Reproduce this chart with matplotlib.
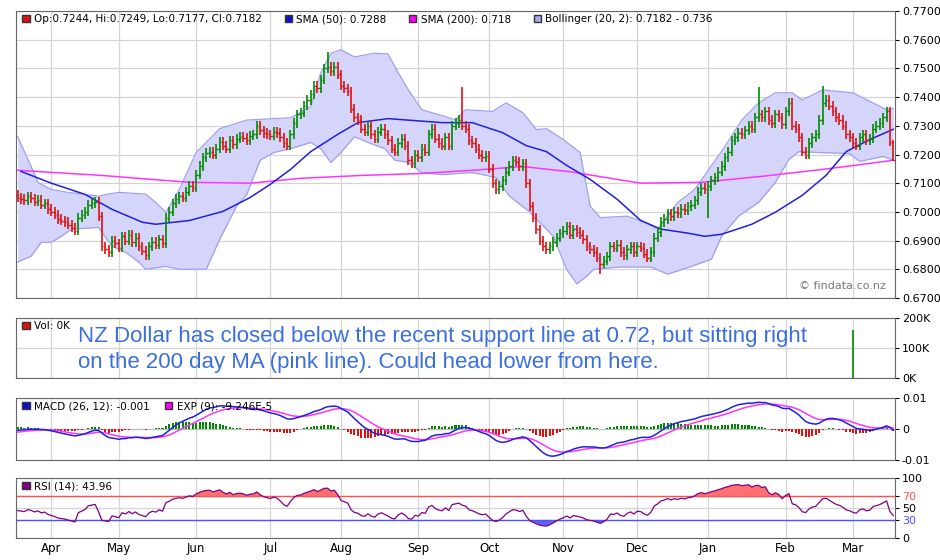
import numpy as np
import pandas as pd
import matplotlib
matplotlib.use("Agg")
import matplotlib.pyplot as plt
from matplotlib.patches import Patch

# closes before the visible window (warm-up for MACD / RSI only)
prior_closes = [0.7200,0.7180,0.7150,0.7120,0.7100,0.7080,0.7050,0.7000,0.6960,0.6950,
                0.6990,0.7030,0.7060,0.7040,0.7010,0.7000,0.6980,0.7020,0.7050,0.7070]
closes = [
0.7050,0.7045,0.7040,0.7055,0.7048,0.7035,0.7042,0.7025,0.7030,0.7010,
0.7000,0.6990,0.6975,0.6970,0.6965,0.6955,0.6945,0.6935,0.6980,0.6990,
0.7000,0.7025,0.7030,0.7035,0.6985,0.6880,0.6870,0.6860,0.6900,0.6890,
0.6875,0.6915,0.6900,0.6920,0.6895,0.6910,0.6880,0.6865,0.6850,0.6880,
0.6895,0.6885,0.6905,0.6890,0.6980,0.7000,0.7030,0.7045,0.7055,0.7050,
0.7070,0.7090,0.7085,0.7130,0.7160,0.7190,0.7205,0.7210,0.7200,0.7220,
0.7245,0.7230,0.7220,0.7250,0.7235,0.7255,0.7262,0.7258,0.7250,0.7265,
0.7270,0.7300,0.7285,0.7275,0.7270,0.7265,0.7280,0.7275,0.7260,0.7240,
0.7230,0.7270,0.7310,0.7340,0.7345,0.7370,0.7390,0.7410,0.7440,0.7430,
0.7460,0.7500,0.7505,0.7490,0.7505,0.7480,0.7440,0.7430,0.7420,0.7360,
0.7330,0.7320,0.7290,0.7280,0.7300,0.7270,0.7255,0.7280,0.7290,0.7270,
0.7250,0.7220,0.7210,0.7240,0.7255,0.7230,0.7180,0.7170,0.7200,0.7190,
0.7220,0.7210,0.7270,0.7290,0.7255,0.7240,0.7230,0.7260,0.7230,0.7300,
0.7310,0.7320,0.7300,0.7290,0.7250,0.7240,0.7220,0.7200,0.7190,0.7195,
0.7150,0.7100,0.7080,0.7090,0.7110,0.7140,0.7160,0.7180,0.7175,0.7160,
0.7170,0.7100,0.7020,0.6980,0.6940,0.6900,0.6880,0.6870,0.6880,0.6895,
0.6910,0.6925,0.6935,0.6950,0.6920,0.6940,0.6930,0.6920,0.6905,0.6880,
0.6870,0.6860,0.6840,0.6820,0.6830,0.6845,0.6880,0.6875,0.6885,0.6860,
0.6850,0.6870,0.6880,0.6860,0.6880,0.6875,0.6855,0.6840,0.6860,0.6910,
0.6930,0.6965,0.6975,0.6995,0.6985,0.7000,0.6995,0.7010,0.7005,0.7020,
0.7025,0.7040,0.7070,0.7085,0.7080,0.7090,0.7110,0.7120,0.7140,0.7160,
0.7190,0.7210,0.7250,0.7260,0.7275,0.7270,0.7285,0.7300,0.7290,0.7330,
0.7340,0.7330,0.7350,0.7320,0.7310,0.7340,0.7330,0.7305,0.7350,0.7380,
0.7300,0.7290,0.7260,0.7210,0.7200,0.7240,0.7260,0.7270,0.7320,0.7380,
0.7390,0.7370,0.7350,0.7330,0.7320,0.7300,0.7270,0.7260,0.7240,0.7230,
0.7260,0.7270,0.7250,0.7255,0.7290,0.7300,0.7310,0.7330,0.7350,0.7244,0.7182]
first_open = 0.7060
last_open = 0.7244
high_overrides = {92: 0.7557, 132: 0.7435, 220: 0.7435, 239: 0.7437, 260: 0.7249}
low_overrides = {205: 0.6980, 260: 0.7177, 173: 0.6785}
volume_spike = {248: 160000}

sma50_idx = [1,10,20,28,37,41,51,61,69,75,81,87,95,101,110,118,126,135,144,151,157,163,170,178,185,191,199,204,209,218,225,233,240,246,253,260]
sma50_val = [0.7141,0.7100,0.7061,0.7009,0.6964,0.6957,0.6970,0.7002,0.7050,0.7096,0.7148,0.7210,0.7270,0.7311,0.7325,0.7318,0.7311,0.7311,0.7276,0.7231,0.7210,0.7162,0.7113,0.7044,0.6970,0.6940,0.6926,0.6915,0.6922,0.6957,0.6999,0.7058,0.7127,0.7210,0.7252,0.7288]
sma200_idx = [0,25,51,69,84,102,120,135,150,164,185,203,221,239,253,260]
sma200_val = [0.7145,0.7127,0.7103,0.7100,0.7117,0.7127,0.7134,0.7145,0.7158,0.7140,0.7100,0.7103,0.7124,0.7148,0.7169,0.7180]
bb_up_idx = [0,4,6,10,15,24,26,30,38,41,44,48,53,60,68,81,87,90,93,96,100,106,110,113,116,120,127,130,133,141,145,150,154,157,162,167,170,173,181,186,190,196,201,210,215,220,225,230,233,239,248,258,260]
bb_up_val = [0.7262,0.7158,0.7103,0.7078,0.7068,0.7055,0.7060,0.7068,0.7062,0.7033,0.6998,0.7078,0.7207,0.7290,0.7320,0.7328,0.7367,0.7485,0.7553,0.7565,0.7540,0.7553,0.7550,0.7485,0.7425,0.7356,0.7332,0.7320,0.7356,0.7350,0.7380,0.7346,0.7287,0.7290,0.7252,0.7207,0.7020,0.6980,0.6985,0.6965,0.6940,0.7033,0.7078,0.7228,0.7320,0.7380,0.7415,0.7415,0.7390,0.7425,0.7415,0.7356,0.7360]
bb_lo_idx = [0,4,7,10,13,16,24,28,32,36,38,44,48,56,60,65,68,72,76,81,87,90,93,96,100,104,109,112,116,120,126,135,142,146,152,159,163,166,169,171,179,188,193,200,206,209,214,220,225,229,232,238,247,250,257,260]
bb_lo_val = [0.6825,0.6846,0.6894,0.6894,0.6915,0.6940,0.6946,0.6880,0.6860,0.6825,0.6800,0.6810,0.6800,0.6800,0.6905,0.7020,0.7060,0.7180,0.7207,0.7220,0.7242,0.7220,0.7172,0.7207,0.7262,0.7242,0.7220,0.7180,0.7172,0.7137,0.7130,0.7137,0.7120,0.7055,0.7000,0.6915,0.6800,0.6749,0.6776,0.6800,0.6808,0.6808,0.6783,0.6810,0.6835,0.6915,0.6985,0.7033,0.7103,0.7183,0.7210,0.7207,0.7203,0.7176,0.7193,0.7180]

price_ticks = [0.67,0.68,0.69,0.70,0.71,0.72,0.73,0.74,0.75,0.76,0.77]
note = ("NZ Dollar has closed below the recent support line at 0.72, but sitting right\n"
        "on the 200 day MA (pink line). Could head lower from here.")

# ---- derived series ----
n = len(closes)
dates = pd.bdate_range("2017-03-20", periods=n)
c = np.array(closes)
o = np.concatenate([[first_open], c[:-1]])
o[-1] = last_open
pad = 0.0016
hi = np.maximum(o, c) + pad
lo = np.minimum(o, c) - pad
for k, v in high_overrides.items():
    hi[k] = v
for k, v in low_overrides.items():
    lo[k] = v
x = np.arange(n)
up = c >= o

npre = len(prior_closes)
cs = pd.Series(prior_closes + closes)
ema12 = cs.ewm(span=12, adjust=True).mean()
ema26 = cs.ewm(span=26, adjust=True).mean()
macd = (ema12 - ema26)
sig = macd.ewm(span=9, adjust=True).mean()
d = cs.diff().iloc[1:]
g = d.clip(lower=0).ewm(alpha=1/14, adjust=True).mean()
l = (-d.clip(upper=0)).ewm(alpha=1/14, adjust=True).mean()
rsi_full = 100 - 100 / (1 + g / l.replace(0, 1e-9))
macd = macd.values[npre:]
sig = sig.values[npre:]
hist = macd - sig
r = rsi_full.values[npre-1:]

month_idx = [i for i in range(1, n) if dates[i].month != dates[i-1].month]
month_lab = [dates[i].strftime("%b") for i in month_idx]

GREEN = "#008a00"
RED = "#e01010"
GRID = "#d4d4d4"
plt.rcParams["font.family"] = "DejaVu Sans"

fig = plt.figure(figsize=(9.4, 5.6), dpi=100)
L, W = 16/940, 879/940
def mkax(top, bot):
    return fig.add_axes([L, 1-bot/560, W, (bot-top)/560])
axp = mkax(11, 298)
axv = mkax(318, 378)
axm = mkax(398, 460)
axr = mkax(478, 538)

for ax in (axp, axv, axm, axr):
    ax.set_xlim(-0.5, n-0.5)
    ax.yaxis.tick_right()
    ax.tick_params(axis="y", labelsize=8, length=3, pad=2, colors="#000")
    ax.tick_params(axis="x", length=0)
    for s in ax.spines.values():
        s.set_color("#666666")
    ax.set_xticks(month_idx)
    ax.grid(True, color=GRID, lw=0.9)
    ax.set_axisbelow(True)
    ax.set_xticklabels([])
axr.set_xticklabels(month_lab, fontsize=8.5)
axr.tick_params(axis="x", pad=3)

# price
ub = pd.Series(bb_up_val, index=bb_up_idx).reindex(range(n)).interpolate()
lb = pd.Series(bb_lo_val, index=bb_lo_idx).reindex(range(n)).interpolate()
axp.fill_between(x, lb.values, ub.values, color="#d5d5fb", lw=0, zorder=1)
axp.plot(bb_up_idx, bb_up_val, color="#a0a0f0", lw=0.9, zorder=2)
axp.plot(bb_lo_idx, bb_lo_val, color="#a0a0f0", lw=0.9, zorder=2)
axp.plot(sma200_idx, sma200_val, color="#ff33ff", lw=1.1, zorder=3)
axp.plot(sma50_idx, sma50_val, color="#2020e0", lw=1.1, zorder=3)
cols = np.where(up, GREEN, RED)
axp.vlines(x, lo, hi, colors=cols, lw=1.2, zorder=4)
axp.hlines(o, x-0.45, x, colors=cols, lw=1.0, zorder=4)
axp.hlines(c, x, x+0.45, colors=cols, lw=1.0, zorder=4)
axp.set_ylim(0.67, 0.77)
axp.set_yticks(price_ticks)
axp.set_yticklabels([f"{t:.4f}" for t in price_ticks])
axp.text(0.99, 0.025, "© findata.co.nz", transform=axp.transAxes, ha="right", va="bottom",
         fontsize=8, color="#777777")
h1 = [Patch(facecolor=RED, edgecolor="#333"), Patch(facecolor="#1010d0", edgecolor="#333"),
      Patch(facecolor="#ff00ff", edgecolor="#333"), Patch(facecolor="#a8a8f0", edgecolor="#333")]
axp.legend(h1, ["Op:0.7244, Hi:0.7249, Lo:0.7177, Cl:0.7182", "SMA (50): 0.7288",
                "SMA (200): 0.718", "Bollinger (20, 2): 0.7182 - 0.736"],
           loc="upper left", ncol=4, frameon=False, fontsize=7.5, handlelength=0.7,
           handleheight=0.7, handletextpad=0.4, columnspacing=2.2,
           borderaxespad=0.2, bbox_to_anchor=(0.0, 1.01))

# volume
vol = np.zeros(n)
for k, v in volume_spike.items():
    vol[k] = v
axv.vlines(x[vol > 0], 0, vol[vol > 0], colors=GREEN, lw=1.2)
axv.set_ylim(0, 200000)
axv.set_yticks([0, 100000, 200000])
axv.set_yticklabels(["0K", "100K", "200K"])
axv.legend([Patch(facecolor=RED, edgecolor="#333")], ["Vol: 0K"], loc="upper left",
           frameon=False, fontsize=7.5, handlelength=0.7, handleheight=0.7,
           handletextpad=0.4, borderaxespad=0.2, bbox_to_anchor=(0.0, 1.05))
axv.text(62/879, 0.48, note, transform=axv.transAxes, ha="left", va="center",
         fontsize=16, color="#3a6fe0", family="Liberation Sans", linespacing=1.3, zorder=6)

# macd
axm.bar(x, hist, width=0.6, color=np.where(hist >= 0, GREEN, RED), zorder=2)
axm.plot(x, sig, color="#ff33ff", lw=1.1, zorder=3)
axm.plot(x, macd, color="#2020e0", lw=1.1, zorder=3)
axm.axhline(0, color="#bbbbbb", lw=0.8, zorder=1)
axm.set_ylim(-0.01, 0.01)
axm.set_yticks([-0.01, 0, 0.01])
axm.set_yticklabels(["-0.01", "0", "0.01"])
axm.legend([Patch(facecolor="#1010d0", edgecolor="#333"), Patch(facecolor="#ff00ff", edgecolor="#333")],
           ["MACD (26, 12): -0.001", "EXP (9): -9.246E-5"], loc="upper left", ncol=2,
           frameon=False, fontsize=7.5, handlelength=0.7, handleheight=0.7, handletextpad=0.4,
           columnspacing=1.5, borderaxespad=0.2, bbox_to_anchor=(0.0, 1.05))

# rsi
axr.fill_between(x, 70, r, where=r > 70, color="#ff7070", interpolate=True, lw=0)
axr.fill_between(x, 30, r, where=r < 30, color="#6060ff", interpolate=True, lw=0)
axr.axhline(70, color="#ff5050", lw=1.0)
axr.axhline(30, color="#5050ff", lw=1.0)
axr.plot(x, r, color="#800080", lw=0.9)
axr.set_ylim(0, 100)
axr.set_yticks([0, 30, 50, 70, 100])
axr.set_yticklabels(["0", "30", "50", "70", "100"])
tl = axr.get_yticklabels()
tl[1].set_color("#5050ff")
tl[3].set_color("#ff5050")
axr.legend([Patch(facecolor="#800080", edgecolor="#333")], ["RSI (14): 43.96"], loc="upper left",
           frameon=False, fontsize=7.5, handlelength=0.7, handleheight=0.7,
           handletextpad=0.4, borderaxespad=0.2, bbox_to_anchor=(0.0, 1.05))

fig.savefig("out.png", dpi=100, facecolor="white")
